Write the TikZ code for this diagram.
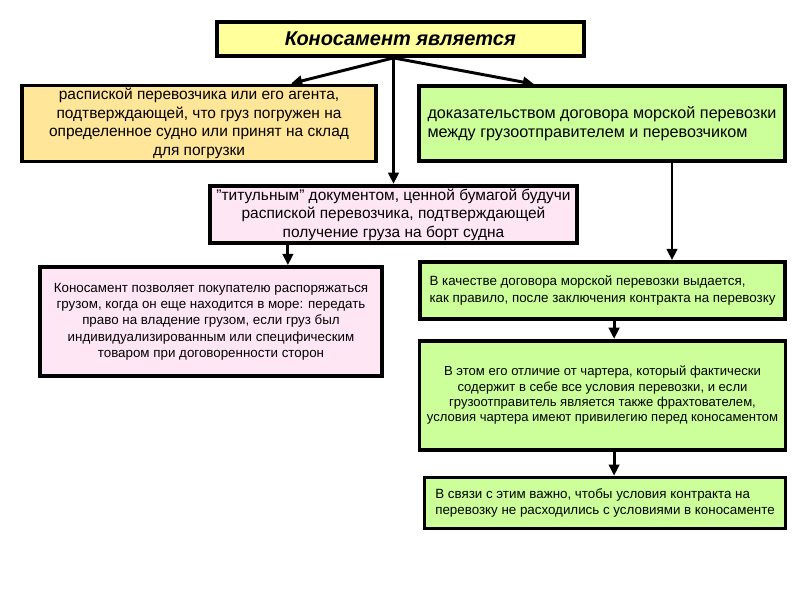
\documentclass[tikz,border=0pt]{standalone}
\usepackage{fontspec}
\setmainfont{Liberation Sans}
\usepackage{xcolor}
\usetikzlibrary{arrows.meta, positioning}

\definecolor{headyellow}{HTML}{FFFF9C}
\definecolor{boxorange}{HTML}{FFE699}
\definecolor{boxgreen}{HTML}{CCFF99}
\definecolor{boxpink}{HTML}{FFE6F5}

\begin{document}
\begin{tikzpicture}[
  node distance=0.45cm,
  box/.style={rectangle, draw=black, line width=2.7pt, inner sep=2pt},
  head/.style={box, fill=headyellow, minimum width=9.175cm, minimum height=0.85cm,
               font=\fontsize{14.2}{16}\selectfont\bfseries\itshape},
  orbox/.style={box, fill=boxorange, align=center, font=\fontsize{11}{13.2}\selectfont},
  grbox/.style={box, fill=boxgreen, align=left},
  pkbox/.style={box, fill=boxpink, align=center},
  big/.style={font=\fontsize{11.5}{13.4}\selectfont},
  small/.style={font=\fontsize{9.5}{11.6}\selectfont},
  arr/.style={-{Triangle[length=2.8mm, width=2.6mm]}, line width=2.1pt}
]
  \useasboundingbox (0,0) rectangle (20,-15);

  \node[head] (title) at (10.01,-0.975) {Коносамент  является};

  \node[orbox, minimum width=8.85cm, minimum height=1.875cm] (receipt) at (4.975,-3.0875)
    {распиской перевозчика или его агента,\\ подтверждающей, что груз погружен на\\
     определенное судно или принят на склад\\ для погрузки};
  \node[grbox, big, minimum width=9.15cm, minimum height=1.875cm] (proof) at (15.05,-3.0875)
    {доказательством договора морской перевозки\\ между грузоотправителем и перевозчиком};
  \node[pkbox, font=\fontsize{11}{13.2}\selectfont, minimum width=9.175cm, minimum height=1.425cm] (title doc) at (9.8375,-5.3625)
    {{\char"22}титульным{\char"22} документом, ценной бумагой будучи\\ распиской перевозчика, подтверждающей\\
     получение груза на борт судна};
  \node[pkbox, small, minimum width=8.55cm, minimum height=2.725cm] (buyer) at (5.275,-8.0375)
    {Коносамент позволяет покупателю распоряжаться\\ грузом, когда он еще находится в море: передать\\
     право на владение грузом, если груз был\\ индивидуализированным или специфическим\\
     товаром при договоренности сторон};
  \node[grbox, small, minimum width=9.125cm, minimum height=1.425cm] (issued) at (15.0625,-7.2625)
    {В качестве договора морской перевозки выдается,\\ как правило, после заключения контракта на перевозку};
  \node[grbox, font=\fontsize{9.3}{11}\selectfont, align=center, minimum width=9.15cm, minimum height=2.725cm, below=of issued] (charter)
    {В этом его отличие от чартера, который фактически\\ содержит в себе все условия перевозки, и если\\
     грузоотправитель является также фрахтователем,\\ условия чартера имеют привилегию перед коносаментом};
  \node[grbox, small, minimum width=9.025cm, minimum height=1.275cm, anchor=north east] (terms)
    at ([yshift=-0.6cm]charter.south east)
    {В связи с этим важно, чтобы условия контракта на\\ перевозку не расходились с условиями в коносаменте};

  \coordinate (hub) at (title doc.north |- title.south);
  \draw[arr] (hub) -- ([xshift=2.3cm]receipt.north);
  \draw[arr] (hub) -- ([xshift=-1.7cm]proof.north);
  \draw[arr] (hub) -- (title doc.north);
  \draw[arr] ([xshift=-2.64cm]title doc.south) -- ([xshift=-2.64cm]title doc.south |- buyer.north);
  \draw[arr] ([xshift=1.75cm]proof.south) -- ([xshift=1.75cm]proof.south |- issued.north);
  \draw[arr] ([xshift=0.29cm]issued.south) -- ([xshift=0.29cm]issued.south |- charter.north);
  \draw[arr] ([xshift=0.29cm]charter.south) -- ([xshift=0.29cm]charter.south |- terms.north);
\end{tikzpicture}
\end{document}
